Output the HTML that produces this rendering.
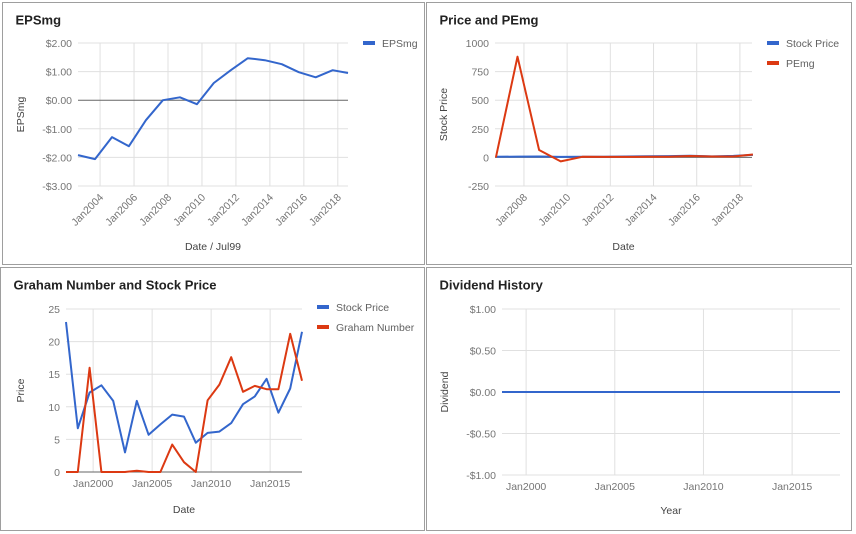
<!DOCTYPE html>
<html><head><meta charset="utf-8"><style>
body{margin:0;width:856px;height:534px;background:#fff;overflow:hidden;font-family:"Liberation Sans",Arial,sans-serif}
svg{position:absolute;left:0;top:0}
</style></head><body>
<svg id="s" width="856" height="534"></svg>
<script>
// Chart 1: EPSmg
const epsYears=[2002.7,2003.7,2004.7,2005.7,2006.7,2007.7,2008.7,2009.7,2010.7,2011.7,2012.7,2013.7,2014.7,2015.7,2016.7,2017.7,2018.6];
const epsValues=[-1.92,-2.06,-1.29,-1.61,-0.7,0,0.1,-0.14,0.6,1.05,1.47,1.4,1.26,0.98,0.8,1.05,0.95];
const epsTicks=[2,1,0,-1,-2,-3];
const epsTickLabels=["$2.00","$1.00","$0.00","-$1.00","-$2.00","-$3.00"];
const epsXTicks=[2004,2006,2008,2010,2012,2014,2016,2018];
// Chart 2: Price and PEmg
const pYears=[2006.7,2007.7,2008.7,2009.7,2010.7,2011.7,2012.7,2013.7,2014.7,2015.7,2016.7,2017.7,2018.6];
const pPrice=[5,7,8,4.5,6,6.2,7.5,10.4,11.6,14.3,9.1,12.8,21.5];
const pPE=[0,880,65,-35,5,4,4,5,6,12,8,8,25];
const pTicks=[1000,750,500,250,0,-250];
const pXTicks=[2008,2010,2012,2014,2016,2018];
// Chart 3: Graham
const gYears=[1997.7,1998.7,1999.7,2000.7,2001.7,2002.7,2003.7,2004.7,2005.7,2006.7,2007.7,2008.7,2009.7,2010.7,2011.7,2012.7,2013.7,2014.7,2015.7,2016.7,2017.7];
const gPrice=[23,6.7,12.2,13.3,10.9,3,10.9,5.7,7.3,8.8,8.5,4.5,6,6.2,7.5,10.4,11.6,14.3,9.1,12.8,21.5];
const gGraham=[0,0,16,0,0,0,0.2,0,0,4.2,1.5,0,11,13.4,17.6,12.3,13.2,12.7,12.7,21.2,14];
const gTicks=[25,20,15,10,5,0];
const gXTicks=[2000,2005,2010,2015];
// Chart 4: Dividend
const dYears=[1998.64,2017.7];
const dValues=[0,0];
const dTicks=[1,0.5,0,-0.5,-1];
const dTickLabels=["$1.00","$0.50","$0.00","-$0.50","-$1.00"];
const dXTicks=[2000,2005,2010,2015];

const NS="http://www.w3.org/2000/svg";
const svg=document.getElementById('s');
function el(tag,attrs,parent,text){const e=document.createElementNS(NS,tag);for(const k in attrs)e.setAttribute(k,attrs[k]);if(text!==undefined)e.textContent=text;(parent||svg).appendChild(e);return e;}

function chart(o){
  const g=el('g',{});
  
  
  const p=el('rect',{x:o.px,y:o.py,width:o.pw,height:o.ph,fill:'#fff',stroke:'#9e9e9e','stroke-width':1},g);
  
  
  const t=el('text',{x:o.px+13,y:o.py+22,'font-size':13,'font-weight':'bold',fill:'#222'},g,o.title);
  
  
  const X=v=>o.x0+(v-o.xd0)*(o.x1-o.x0)/(o.xd1-o.xd0);
  const Y=v=>o.y0+(v-o.yd0)*(o.y1-o.y0)/(o.yd1-o.yd0);
  o.xticks.forEach(v=>{
    const l=el('line',{x1:X(v),x2:X(v),y1:o.y0,y2:o.y1,stroke:'#e0e0e0'},g);
    
    
    let lab;
    if(o.rot){
      const tx=X(v)+4,ty=o.y1+12;
      lab=el('text',{x:tx,y:ty,'font-size':10.5,fill:'#757575','text-anchor':'end',transform:`rotate(-45 ${tx} ${ty})`},g,'Jan'+v);
    }else{
      lab=el('text',{x:X(v),y:o.y1+15,'font-size':10.5,fill:'#757575','text-anchor':'middle'},g,'Jan'+v);
    }
    
    
  });
  o.yticks.forEach((v,i)=>{
    const l=el('line',{x1:o.x0,x2:o.x1,y1:Y(v),y2:Y(v),stroke:v===0&&o.zeroDark?'#666':'#e0e0e0'},g);
    
    
    const lab=el('text',{x:o.x0-6,y:Y(v)+4,'font-size':10.5,fill:'#757575','text-anchor':'end'},g,o.ylabels?o.ylabels[i]:String(v));
    
    
  });
  const xt=el('text',{x:(o.x0+o.x1)/2,y:o.xtY,'font-size':10.5,fill:'#444','text-anchor':'middle'},g,o.xtitle);
  
  
  const yx=o.ytX,yy=(o.y0+o.y1)/2;
  const yt=el('text',{x:yx,y:yy,'font-size':10.5,fill:'#444','text-anchor':'middle',transform:`rotate(-90 ${yx} ${yy})`},g,o.ytitle);
  
  
  o.series.forEach((s,si)=>{
    const pts=s.xs.map((x,i)=>X(x).toFixed(1)+','+Y(s.ys[i]).toFixed(1)).join(' ');
    const pl=el('polyline',{points:pts,fill:'none',stroke:s.color,'stroke-width':2,'stroke-linejoin':'round'},g);
    
    
    if(s.legend){
      const ly=o.legY+si*20;
      const lr=el('rect',{x:o.legX,y:ly-3,width:12,height:4,fill:s.color},g);
      
      
      const lt=el('text',{x:o.legX+19,y:ly+3,'font-size':10.5,fill:'#616161'},g,s.legend);
      
      
    }
  });
}
const BLUE='#3366cc',RED='#dc3912';
chart({name:'epsmg-chart',title:'EPSmg',px:2.5,py:2.5,pw:422,ph:262,x0:78,x1:348,y0:43,y1:186,xd0:2002.7,xd1:2018.6,yd0:2,yd1:-3,
  xticks:epsXTicks,yticks:epsTicks,ylabels:epsTickLabels,rot:true,zeroDark:true,xtitle:'Date / Jul99',xtY:250,ytitle:'EPSmg',ytX:24,
  legX:363,legY:44,series:[{id:'epsmg',xs:epsYears,ys:epsValues,color:BLUE,legend:'EPSmg'}]});
chart({name:'price-pemg-chart',title:'Price and PEmg',px:426.5,py:2.5,pw:425,ph:262,x0:495,x1:752,y0:43,y1:186,xd0:2006.66,xd1:2018.56,yd0:1000,yd1:-250,
  xticks:pXTicks,yticks:pTicks,rot:true,zeroDark:true,xtitle:'Date',xtY:250,ytitle:'Stock Price',ytX:447,
  legX:767,legY:44,series:[{id:'stock-price',xs:pYears,ys:pPrice,color:BLUE,legend:'Stock Price'},{id:'pemg',xs:pYears,ys:pPE,color:RED,legend:'PEmg'}]});
chart({name:'graham-chart',title:'Graham Number and Stock Price',px:0.5,py:267.5,pw:424,ph:263,x0:66,x1:302,y0:309,y1:472,xd0:1997.7,xd1:2017.7,yd0:25,yd1:0,
  xticks:gXTicks,yticks:gTicks,rot:false,zeroDark:true,xtitle:'Date',xtY:513,ytitle:'Price',ytX:24,
  legX:317,legY:308,series:[{id:'graham-stock-price',xs:gYears,ys:gPrice,color:BLUE,legend:'Stock Price'},{id:'graham-number',xs:gYears,ys:gGraham,color:RED,legend:'Graham Number'}]});
chart({name:'dividend-chart',title:'Dividend History',px:426.5,py:267.5,pw:425,ph:263,x0:502,x1:840,y0:309,y1:475,xd0:1998.64,xd1:2017.7,yd0:1,yd1:-1,
  xticks:dXTicks,yticks:dTicks,ylabels:dTickLabels,rot:false,zeroDark:false,xtitle:'Year',xtY:514,ytitle:'Dividend',ytX:448,
  legX:0,legY:0,series:[{id:'dividend',xs:dYears,ys:dValues,color:BLUE}]});
</script>
</body></html>
